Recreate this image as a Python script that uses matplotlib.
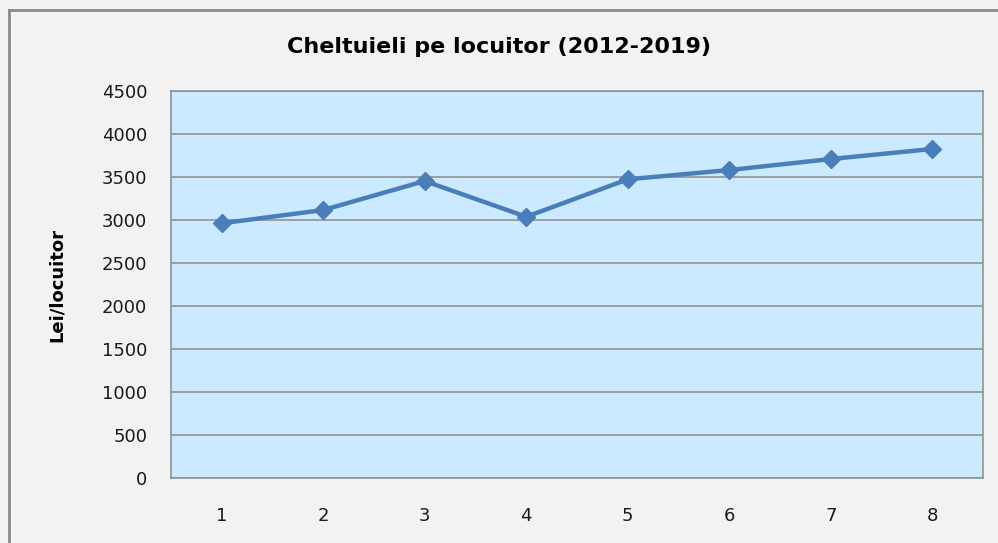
import matplotlib.pyplot as plt
from matplotlib.lines import Line2D

years = [1, 2, 3, 4, 5, 6, 7, 8]
cheltuieli = [2962, 3116, 3453, 3038, 3473, 3581, 3709, 3826]
y_ticks = [0, 500, 1000, 1500, 2000, 2500, 3000, 3500, 4000, 4500]

fig = plt.figure(figsize=(9.98, 5.43), dpi=100, facecolor='#f2f2f2')
ax = fig.add_axes([0.1713, 0.1197, 0.8137, 0.7127])
ax.set_facecolor('#cceaff')

ax.plot(years, cheltuieli, color='#4a7ebb', linewidth=3.2, marker='D',
        markersize=9, zorder=3)

ax.set_xlim(0.5, 8.5)
ax.set_ylim(0, 4500)
ax.set_xticks(years)
ax.set_yticks(y_ticks)
ax.grid(axis='y', color='#8c8c8c', linewidth=1.1)
ax.set_axisbelow(True)
for s in ax.spines.values():
    s.set_color('#8c8c8c')
    s.set_linewidth(1.1)
ax.tick_params(axis='both', length=0, labelsize=13, colors='#1a1a1a')
ax.tick_params(axis='y', pad=17)
ax.tick_params(axis='x', pad=21)

ax.set_ylabel('Lei/locuitor', fontsize=13, fontweight='bold', labelpad=26)
fig.text(0.5, 0.913, 'Cheltuieli pe locuitor (2012-2019)', ha='center',
         va='center', fontsize=16, fontweight='bold')

# chart frame (left and top edges visible)
fig.add_artist(Line2D([0.0095, 0.0095], [0, 0.982], color='#8a8a8a',
                      linewidth=2, transform=fig.transFigure))
fig.add_artist(Line2D([0.0095, 1], [0.982, 0.982], color='#8a8a8a',
                      linewidth=2, transform=fig.transFigure))

fig.savefig('out.png', dpi=100, facecolor=fig.get_facecolor())
